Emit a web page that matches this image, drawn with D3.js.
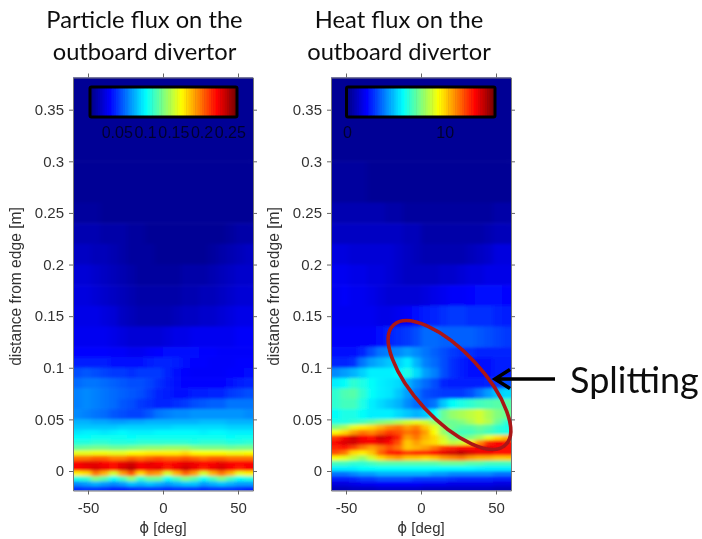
<!DOCTYPE html>
<html><head><meta charset="utf-8">
<script src="https://cdnjs.cloudflare.com/ajax/libs/d3/7.8.5/d3.min.js"></script>
<style>html,body{margin:0;padding:0;background:#fff}svg{display:block}text{font-family:"Liberation Sans",Arial,sans-serif}</style>
</head><body>
<svg id="c" width="702" height="539"></svg>
<script>
// Column edges (toroidal angle, deg)
const phiEdges = [-60,-54,-48,-42,-36,-30,-24,-18,-12,-6,0,6,12,18,24,30,36,42,48,54,60];
// Row edges (distance from edge, m), top to bottom
const distanceEdges = [0.385,0.34,0.30,0.26,0.24,0.22,0.20,0.18,0.16,0.14,0.12,0.11,0.10,0.09,0.08,0.07,0.06,0.05,0.045,0.04,0.035,0.03,0.025,0.02,0.015,0.01,0.005,0,-0.005,-0.01,-0.015,-0.025];
const xTicks = [-50,0,50];
const yTicks = [0,0.05,0.1,0.15,0.2,0.25,0.3,0.35];
const particleBarTicks = [0.05,0.1,0.15,0.2,0.25];
const heatBarTicks = [0,10];
const particleBarMax = 0.26;
const heatBarMax = 15;
const titles = [["Particle flux on the","outboard divertor"],["Heat flux on the","outboard divertor"]];
// Levels read against the colour bar, 0-100 percent of its full scale
const particleLevels = [
[1,1,1,1,1,1,1,1,1,1,1,1,1,1,1,1,1,1,1,1],
[1,1,1,1,1,1,1,1,1,1,1,1,1,1,1,1,1,1,1,1],
[1,1,1,1,1,1,1,1,1,1,1,1,1,1,1,1,1,1,1,1],
[2,2,2,1,1,1,1,1,1,1,1,1,1,1,1,1,1,1,1,1],
[4,4,4,3,3,3,2,2,1,1,1,1,1,1,1,1,1,2,3,3],
[6,6,5,5,4,3,2,2,2,1,1,1,1,1,1,2,3,4,5,6],
[8,8,7,6,5,4,3,2,2,2,2,2,3,3,3,4,5,6,7,7],
[9,9,8,7,6,5,4,3,3,3,3,3,4,4,5,5,6,7,8,8],
[10,10,10,9,8,6,5,4,4,4,4,5,6,6,7,7,8,9,10,10],
[11,11,11,11,10,9,8,8,8,8,9,10,10,11,11,11,11,11,12,12],
[13,13,13,13,12,12,11,11,12,13,14,14,14,14,13,13,12,12,12,12],
[15,15,15,15,14,14,14,14,15,16,16,15,14,13,13,12,12,12,13,13],
[20,21,20,19,18,18,17,18,18,18,16,14,13,12,12,12,12,13,13,14],
[23,24,24,23,22,21,20,20,19,17,15,14,13,13,13,13,13,14,15,16],
[25,26,25,24,23,22,21,20,18,16,15,14,14,15,15,16,16,18,19,20],
[25,26,25,24,23,21,20,18,17,16,16,17,18,20,21,22,22,24,24,24],
[26,25,24,23,21,20,19,19,21,24,25,26,26,27,27,27,27,27,27,26],
[30,30,29,29,28,28,29,29,30,30,30,30,30,30,31,31,31,30,30,30],
[32,32,32,32,32,33,33,33,33,33,33,34,34,34,34,34,34,33,33,33],
[35,36,36,35,36,37,36,36,36,37,37,37,37,37,36,37,37,36,36,36],
[38,38,39,39,39,39,38,39,39,39,39,39,39,39,39,39,39,38,39,39],
[41,41,42,42,41,41,41,42,42,42,42,42,42,41,42,42,42,41,41,42],
[47,48,49,49,48,48,49,50,51,51,52,52,52,50,49,49,49,48,49,49],
[60,60,61,61,60,60,62,63,64,64,64,64,66,63,62,62,62,61,61,62],
[76,76,78,78,75,75,78,76,78,80,78,78,80,78,76,78,78,76,76,76],
[88,90,90,88,86,90,92,88,90,88,86,88,90,89,87,88,90,88,87,88],
[88,89,91,89,86,91,94,88,89,90,85,89,92,89,85,89,91,88,85,88],
[64,66,76,70,58,72,80,66,74,72,58,70,78,72,58,70,76,70,60,64],
[40,42,50,46,38,44,52,42,48,48,38,44,50,46,38,44,50,44,38,40],
[26,28,30,28,26,28,32,30,32,30,28,30,32,32,28,30,32,30,28,28],
[17,18,18,17,16,16,17,18,18,18,17,18,18,18,17,18,18,18,17,16]];
const heatLevels = [
[1,1,1,1,1,1,1,1,1,1,1,1,1,1,1,1,1,1,1,1],
[1,1,1,1,1,1,1,1,1,1,1,1,1,1,1,1,1,1,1,1],
[2,2,2,2,1,1,1,1,1,1,1,1,1,1,1,1,1,1,1,1],
[4,4,4,4,4,4,3,3,2,2,2,2,2,2,2,2,2,2,3,3],
[6,6,6,6,6,6,6,6,5,5,3,3,3,3,3,3,3,4,5,5],
[9,9,8,8,8,8,8,7,6,5,4,4,4,4,4,5,6,7,9,9],
[11,11,10,10,9,9,8,7,6,6,6,6,7,7,8,9,9,10,10,10],
[11,12,11,11,10,9,8,8,8,8,9,10,11,12,12,13,14,14,14,13],
[11,11,11,11,11,10,10,11,12,14,15,16,17,18,18,17,17,17,16,15],
[12,12,12,12,12,14,16,17,18,20,23,23,22,22,22,22,21,20,19,18],
[14,14,14,16,20,24,25,26,28,26,24,22,20,18,17,17,16,16,16,16],
[16,16,17,24,28,30,32,33,36,30,25,23,20,17,15,14,14,14,15,15],
[26,28,30,33,36,36,36,37,40,34,28,25,20,17,15,14,14,14,15,15],
[36,38,42,40,38,36,35,34,30,26,23,20,16,15,15,15,15,16,18,20],
[42,45,46,42,38,36,35,32,28,24,20,19,18,18,18,20,24,28,32,34],
[42,44,44,40,36,34,32,30,26,23,22,24,32,38,40,42,44,45,46,46],
[38,40,40,38,36,36,36,34,32,30,32,38,48,52,54,56,58,54,50,48],
[40,40,42,44,47,50,52,55,58,60,58,52,48,48,50,54,58,55,48,42],
[50,54,60,64,66,70,74,76,72,75,68,60,52,48,46,46,48,46,42,40],
[62,66,72,76,74,78,82,80,76,78,72,62,52,46,44,44,46,44,42,40],
[82,88,92,88,86,92,90,84,72,76,70,66,58,50,48,50,54,60,66,70],
[88,91,92,89,88,90,88,80,68,72,68,66,60,56,58,64,74,84,88,86],
[84,86,82,76,72,76,80,76,68,70,72,76,82,84,86,86,88,90,88,86],
[80,76,66,64,68,78,85,86,82,84,84,87,90,92,94,91,89,89,86,86],
[62,60,56,52,58,66,70,72,68,68,66,68,72,74,76,72,70,70,68,68],
[44,44,42,42,44,46,46,46,46,46,46,46,48,48,48,46,46,44,44,44],
[36,36,36,38,38,38,38,38,38,38,38,38,37,37,37,37,36,36,36,36],
[24,24,26,28,28,30,30,30,30,30,30,28,28,26,26,26,26,26,24,24],
[15,15,16,18,18,20,20,20,20,18,18,18,18,17,16,16,16,16,15,15],
[9,9,10,11,11,12,12,12,12,12,11,11,11,10,10,10,10,10,9,9],
[5,5,6,6,6,7,7,7,7,7,6,6,6,6,6,6,6,6,5,5]];

const svg = d3.select("#c");
const jet = d3.scaleLinear().domain([0,12.5,37.5,62.5,87.5,100])
  .range(["#00008c","#0000ff","#00ffff","#ffff00","#ff0000","#800000"]).clamp(true);
const y = d3.scaleLinear().domain([0,0.35]).range([471,109.7]);
const top0 = 77.5, bot0 = 490.5;
const defs = svg.append("defs");
const soft = defs.append("filter").attr("id","soft").attr("filterUnits","userSpaceOnUse")
  .attr("x",0).attr("y",0).attr("width",702).attr("height",539);
soft.append("feGaussianBlur").attr("stdDeviation","2.4 1.5");
const tb = defs.append("filter").attr("id","tb").attr("filterUnits","userSpaceOnUse")
  .attr("x",0).attr("y",0).attr("width",702).attr("height",539);
tb.append("feGaussianBlur").attr("stdDeviation","0.4");

const panels = [
 {levels:particleLevels,x0:73,x1:253,title:titles[0],titleX:144.5,barX:[89,236],barMax:particleBarMax,barTicks:particleBarTicks},
 {levels:heatLevels,x0:331,x1:511,title:titles[1],titleX:399,barX:[347.5,494],barMax:heatBarMax,barTicks:heatBarTicks}
];
panels.forEach((p,i)=>{
  const x = d3.scaleLinear().domain([-60,60]).range([p.x0,p.x1]);
  defs.append("clipPath").attr("id","clip"+i).append("rect")
    .attr("x",p.x0).attr("y",top0).attr("width",p.x1-p.x0).attr("height",bot0-top0);
  const cells = [];
  p.levels.forEach((row,r)=>row.forEach((v,c)=>cells.push({r,c,v})));
  const pad = c => c===0 ? 10 : 0, padR = c => c===phiEdges.length-2 ? 10 : 0;
  svg.append("g").attr("clip-path",`url(#clip${i})`).append("g").attr("filter","url(#soft)")
    .selectAll("rect").data(cells).join("rect")
    .attr("x",d=>x(phiEdges[d.c])-pad(d.c))
    .attr("y",d=>y(distanceEdges[d.r]))
    .attr("width",d=>x(phiEdges[d.c+1])-x(phiEdges[d.c])+pad(d.c)+padR(d.c)+0.5)
    .attr("height",d=>y(distanceEdges[d.r+1])-y(distanceEdges[d.r])+0.5)
    .attr("fill",d=>jet(d.v));

  const ax = svg.append("g").attr("filter","url(#tb)");
  const style = g=>{g.selectAll("path").attr("stroke","#777").attr("stroke-width",1);
    g.selectAll("line").attr("stroke","#666");
    g.selectAll("text").attr("fill","#333").style("font-size","15px").style("font-family",'"Liberation Sans",Arial,sans-serif');};
  const yFull = d3.scaleLinear().domain([y.invert(bot0),y.invert(top0)]).range([bot0,top0]);
  ax.append("g").attr("transform",`translate(0,${bot0})`).call(d3.axisBottom(x).tickValues(xTicks).tickFormat(d=>String(d)).tickSize(4).tickSizeOuter(0).tickPadding(8)).call(style);
  ax.append("g").attr("transform",`translate(0,${top0})`).call(d3.axisTop(x).tickValues(xTicks).tickFormat("").tickSize(4).tickSizeOuter(0)).call(style);
  ax.append("g").attr("transform",`translate(${p.x0},0)`).call(d3.axisLeft(yFull).tickValues(yTicks).tickFormat(d=>String(d)).tickSize(4).tickSizeOuter(0).tickPadding(5)).call(style);
  ax.append("g").attr("transform",`translate(${p.x1},0)`).call(d3.axisRight(yFull).tickValues(yTicks).tickFormat("").tickSize(4).tickSizeOuter(0)).call(style);
  ax.append("text").attr("x",(p.x0+p.x1)/2).attr("y",533).attr("text-anchor","middle").attr("fill","#333").style("font-size","15px")
    .call(t=>{t.append("tspan").style("font-family",'"DejaVu Sans"').text("ϕ");t.append("tspan").text(" [deg]");});
  ax.append("text").attr("transform",`translate(${i===0?21:279},286.5) rotate(-90)`).attr("text-anchor","middle").attr("fill","#333").style("font-size","15.6px")
    .text("distance from edge [m]");

  // colour bar
  const bar = svg.append("g").attr("filter","url(#tb)");
  const bx = d3.scaleLinear().domain([0,p.barMax]).range(p.barX);
  const steps = d3.range(64);
  const bs = i===0 ? [91,236] : p.barX;
  const sx = d3.scaleLinear().domain([0,64]).range(bs);
  bar.selectAll("rect.s").data(steps).join("rect").attr("class","s")
    .attr("x",d=>sx(d)).attr("y",87.5).attr("width",(bs[1]-bs[0])/64+0.6).attr("height",29)
    .attr("fill",d=>jet(d/63*100));
  bar.append("rect").attr("x",bs[0]-1).attr("y",87).attr("width",bs[1]-bs[0]+2).attr("height",30)
    .attr("fill","none").attr("stroke","#000").attr("stroke-width",3).attr("rx",1.5);
  bar.selectAll("text").data(p.barTicks).join("text")
    .attr("x",d=>bx(d)).attr("y",138).attr("text-anchor","middle").attr("fill","#00002e")
    .style("font-size","16px").text(d=>String(d));

  svg.append("g").attr("filter","url(#tb)").selectAll("text").data(p.title).join("text")
    .attr("x",p.titleX).attr("y",(d,k)=>28+k*32).attr("text-anchor","middle").attr("fill","#111")
    .style("font-family","Lato").style("font-size","23.7px").text(d=>d);
});

// annotation
const an = svg.append("g").attr("filter","url(#tb)");
an.append("ellipse").attr("transform","translate(449.5,385) rotate(47)")
  .attr("rx",82).attr("ry",34).attr("fill","none").attr("stroke","#aa1418").attr("stroke-width",3.6);
an.append("path").attr("d","M555,379H495M510,369.5L495,379L510,388.5").attr("fill","none").attr("stroke","#000").attr("stroke-width",3.6);
an.append("text").attr("x",570).attr("y",393).attr("fill","#111").style("font-family","Lato").style("font-size","36px").text("Splitting");
</script>
</body></html>
